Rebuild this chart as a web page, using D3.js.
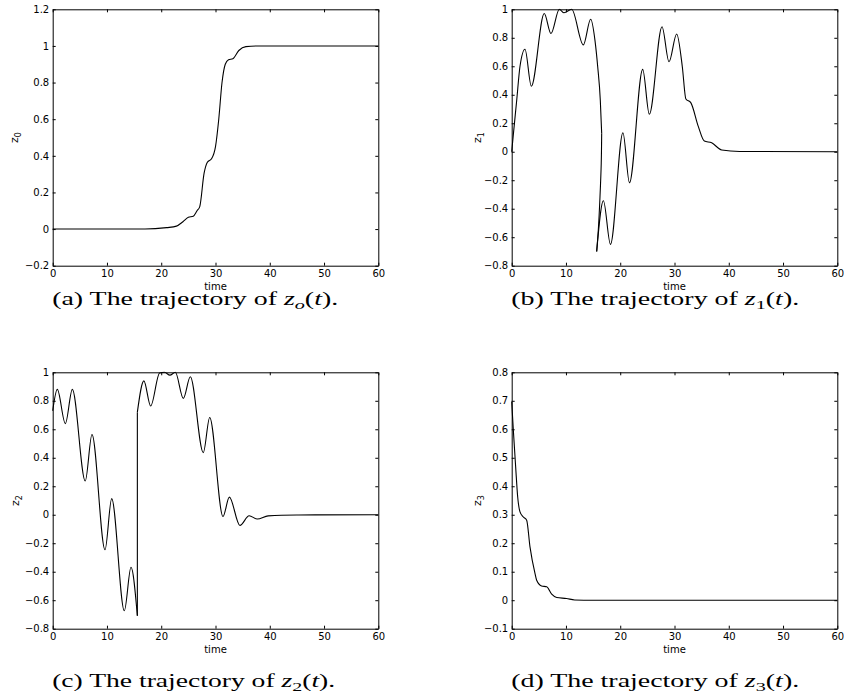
<!DOCTYPE html>
<html>
<head>
<meta charset="utf-8">
<script src="https://cdn.jsdelivr.net/npm/d3@7"></script>
<style>
body { margin: 0; background: #fff; }
svg text { fill: #000; }
</style>
</head>
<body>
<div class="canvas"></div>
<script>
// tick values
const timeTicks = [0, 10, 20, 30, 40, 50, 60];
const z0Ticks = [-0.2, 0, 0.2, 0.4, 0.6, 0.8, 1, 1.2];
const z1Ticks = [-0.8, -0.6, -0.4, -0.2, 0, 0.2, 0.4, 0.6, 0.8, 1];
const z2Ticks = [-0.8, -0.6, -0.4, -0.2, 0, 0.2, 0.4, 0.6, 0.8, 1];
const z3Ticks = [-0.1, 0, 0.1, 0.2, 0.3, 0.4, 0.5, 0.6, 0.7, 0.8];

// traces as [time, value]
const z0Trace = [[0,0],[17,0],[21,0.008],[22.8,0.016],[24,0.04],[25,0.064],[25.9,0.07],[26.6,0.1],
  [27.1,0.123],[27.9,0.305],[28.5,0.365],[29.3,0.385],[30,0.45],[30.6,0.6],[31.2,0.8],[31.8,0.9],
  [32.4,0.925],[33.2,0.93],[34.3,0.975],[35.6,0.996],[38,1],[60,1]];

const z1TraceA = [[0,0],[0.3,0.12],[0.92,0.36],[1.53,0.6],[2.45,0.72],[3.62,0.46],[6.0,0.97],[7.24,0.83],
  [8.78,1.0],[9.64,0.976],[11.05,1.0],[13.2,0.75],[14.55,0.93],[15.35,0.78],[15.84,0.6],[16.33,0.36],[16.58,0.13]];
const z1TraceB = [[16.58,0.13],[16.5,-0.08],[16.27,-0.316],[15.96,-0.55],[15.66,-0.70]];
const z1TraceC = [[15.66,-0.70],[16.9,-0.344],[18.2,-0.65],[20.5,0.133],[21.7,-0.218],[24.14,0.578],
  [25.36,0.263],[27.7,0.878],[28.99,0.632],[30.4,0.827],[31.44,0.597],[32.1,0.37],[33.0,0.345],
  [34.4,0.176],[35.5,0.075],[36.85,0.063],[38.7,0.012],[42,0.002],[60,0]];

const z2TraceA = [[0,0.73],[0.85,0.88],[2.33,0.64],[3.62,0.88],[6.0,0.237],[7.24,0.563],[9.64,-0.246],
  [10.87,0.113],[13.2,-0.674],[14.43,-0.369],[15.6,-0.709]];
const z2TraceB = [[15.6,-0.709],[15.6,0.72]];
const z2TraceC = [[15.6,0.72],[16.8,0.94],[18.05,0.763],[19.7,0.995],[20.6,1.0],[21.6,0.98],[22.6,1.0],
  [24.07,0.817],[25.36,0.969],[27.75,0.436],[28.93,0.683],[31.38,-0.012],[32.55,0.124],[34.5,-0.075],
  [36.2,-0.007],[37.7,-0.03],[39.7,-0.008],[45,-0.002],[60,0]];

const z3Trace = [[0,0.697],[0.3,0.597],[0.73,0.468],[1.1,0.363],[1.53,0.31],[2.1,0.293],[2.76,0.281],
  [3.37,0.187],[4.29,0.094],[4.6,0.07],[5.5,0.05],[6.45,0.047],[7.37,0.021],[8.3,0.0094],[10.1,0.006],
  [11.6,0.001],[15,0],[60,0]];

const width = 844;
const height = 695;
const plotW = 325.6;
const plotH = 256.4;
const sansFont = '"DejaVu Sans", sans-serif';
const serifFont = '"Liberation Serif", "DejaVu Serif", serif';

const panels = [
  { left: 52.7, top: 9.3, yDomain: [-0.2, 1.2], yTicks: z0Ticks, sub: '0', labelOff: 34.5,
    traces: [z0Trace], tag: '(a)', capSub: 'o', subItalic: true, capBase: 305, capW: 286 },
  { left: 511.7, top: 9.3, yDomain: [-0.8, 1], yTicks: z1Ticks, sub: '1', labelOff: 31,
    traces: [z1TraceA, z1TraceB, z1TraceC], tag: '(b)', capSub: '1', subItalic: false, capBase: 305, capW: 288 },
  { left: 52.7, top: 372.3, yDomain: [-0.8, 1], yTicks: z2Ticks, sub: '2', labelOff: 34,
    traces: [z2TraceA, z2TraceB, z2TraceC], tag: '(c)', capSub: '2', subItalic: false, capBase: 687, capW: 283 },
  { left: 511.7, top: 372.3, yDomain: [-0.1, 0.8], yTicks: z3Ticks, sub: '3', labelOff: 31,
    traces: [z3Trace], tag: '(d)', capSub: '3', subItalic: false, capBase: 687, capW: 288 }
];

const svg = d3.select('.canvas')
  .append('svg')
  .attr('width', width)
  .attr('height', height);

svg.append('rect').attr('width', width).attr('height', height).attr('fill', '#fff');

const fmt = d3.format('~g');

panels.forEach((p, i) => {
  const g = svg.append('g').attr('transform', `translate(${p.left},${p.top})`);

  const x = d3.scaleLinear().domain([0, 60]).range([0, plotW]);
  const y = d3.scaleLinear().domain(p.yDomain).range([plotH, 0]);

  g.append('clipPath').attr('id', 'clip' + i)
    .append('rect').attr('x', -1).attr('y', -1).attr('width', plotW + 2).attr('height', plotH + 2);

  // monotone pieces get monotoneX, the wrap-around pieces go through catmull-rom
  p.traces.forEach(tr => {
    let mono = true;
    for (let k = 1; k < tr.length; k++) if (tr[k][0] <= tr[k - 1][0]) mono = false;
    let curve = mono ? d3.curveMonotoneX : d3.curveCatmullRom.alpha(0.5);
    if (tr.length < 3) curve = d3.curveLinear;
    const line = d3.line()
      .x(d => x(d[0]))
      .y(d => y(d[1]))
      .curve(curve);
    g.append('path')
      .datum(tr)
      .attr('clip-path', `url(#clip${i})`)
      .attr('fill', 'none')
      .attr('stroke', '#000')
      .attr('stroke-width', 1.1)
      .attr('d', line);
  });

  const xAxis = d3.axisBottom(x).tickValues(timeTicks).tickSizeInner(-3).tickSizeOuter(0).tickPadding(4.5);
  const xTop = d3.axisTop(x).tickValues(timeTicks).tickSizeInner(-3).tickSizeOuter(0).tickFormat('');
  const yAxis = d3.axisLeft(y).tickValues(p.yTicks).tickSizeInner(-3).tickSizeOuter(0).tickPadding(3.5).tickFormat(fmt);
  const yRight = d3.axisRight(y).tickValues(p.yTicks).tickSizeInner(-3).tickSizeOuter(0).tickFormat('');

  g.append('g').attr('transform', `translate(0,${plotH})`).call(xAxis);
  g.append('g').call(xTop);
  g.append('g').call(yAxis);
  g.append('g').attr('transform', `translate(${plotW},0)`).call(yRight);

  g.selectAll('.domain').attr('stroke', '#000').attr('stroke-width', 1);
  g.selectAll('.tick line').attr('stroke', '#000');
  g.selectAll('.tick text').attr('font-size', 10).style('font-family', sansFont);

  g.append('text')
    .attr('x', plotW / 2)
    .attr('y', plotH + 24.8)
    .attr('text-anchor', 'middle')
    .attr('font-size', 10)
    .style('font-family', sansFont)
    .text('time');

  const yl = g.append('text')
    .attr('transform', `translate(${-p.labelOff},${plotH / 2}) rotate(-90)`)
    .attr('text-anchor', 'middle')
    .attr('font-size', 11)
    .style('font-family', sansFont);
  yl.append('tspan').text('z');
  yl.append('tspan').attr('font-size', 8).attr('dy', 3).text(p.sub);

  // caption under each panel
  const cap = svg.append('text')
    .attr('x', p.left - 0.5)
    .attr('y', p.capBase)
    .style('font-family', serifFont)
    .attr('font-size', 18)
    .attr('textLength', p.capW)
    .attr('lengthAdjust', 'spacingAndGlyphs');
  cap.append('tspan').text(p.tag + ' The trajectory of ');
  cap.append('tspan').attr('font-style', 'italic').text('z');
  cap.append('tspan').attr('font-size', 13).attr('dy', 4)
    .attr('font-style', p.subItalic ? 'italic' : 'normal').text(p.capSub);
  cap.append('tspan').attr('dy', -4).text('(');
  cap.append('tspan').attr('font-style', 'italic').text('t');
  cap.append('tspan').text(').');
});
</script>
</body>
</html>
